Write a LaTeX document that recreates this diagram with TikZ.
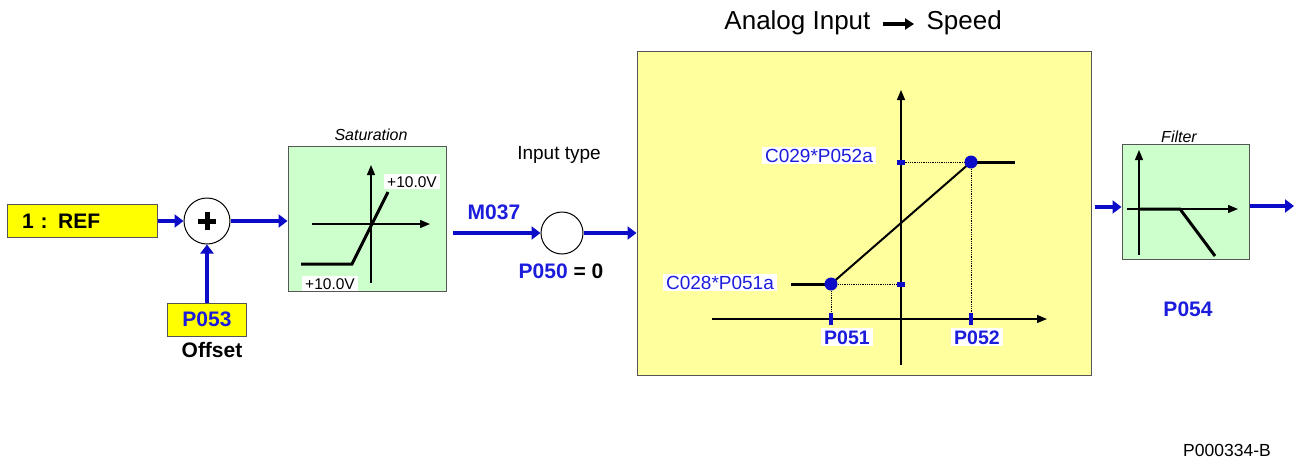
\documentclass[tikz,border=0pt]{standalone}
\usepackage{fontspec}
\setmainfont{Liberation Sans}
\usetikzlibrary{arrows.meta}
\definecolor{sigblue}{RGB}{12,12,200}
\definecolor{txtblue}{RGB}{28,28,220}
\definecolor{refyellow}{RGB}{255,255,0}
\definecolor{paleyellow}{RGB}{255,255,158}
\definecolor{palegreen}{RGB}{204,255,204}
\definecolor{edgegray}{RGB}{85,85,85}
\begin{document}
\begin{tikzpicture}[x=1pt,y=-1pt,
  sig/.style={draw=sigblue, line width=4.5pt, -{Triangle[length=9pt,width=13pt]}},
  ax/.style={line width=1.3pt, -{Triangle[length=10pt,width=8pt]}},
  curvethick/.style={line width=3pt},
  curvethin/.style={line width=2pt},
  refbox/.style={draw=edgegray, fill=refyellow, line width=1pt, inner sep=0pt},
  greenbox/.style={draw=edgegray, fill=palegreen, line width=1pt, inner sep=0pt},
  ybox/.style={draw=edgegray, fill=paleyellow, line width=1pt, inner sep=0pt},
  bigb/.style={font=\fontsize{21}{25}\selectfont\bfseries},
  midb/.style={font=\fontsize{19.5}{23}\selectfont\bfseries},
  regl/.style={font=\fontsize{19}{23}\selectfont},
  small/.style={font=\fontsize{15.5}{18}\selectfont},
  smallit/.style={font=\fontsize{16}{19}\selectfont\itshape},
  wbg/.style={fill=white, inner xsep=3pt, inner ysep=2pt},
  blk/.style={circle, draw=black, fill=white, line width=1pt, inner sep=0pt},
  tick/.style={fill=sigblue}
]
\useasboundingbox[fill=white] (0,0) rectangle (1298,464);

% title
\node[font=\fontsize{26}{30}\selectfont, anchor=base east] (tA) at (874,29) {Analog Input};
\node[font=\fontsize{26}{30}\selectfont, anchor=base west] (tB) at (923,29) {Speed};
\coordinate (ta) at (883,24);
\coordinate (tb) at (914,24);
\draw[line width=3.5pt, -{Triangle[length=9pt,width=11pt]}] (ta) -- (tb);

% REF box and summation
\node[refbox, minimum width=150pt, minimum height=33pt, text width=120pt, align=left, bigb] (ref) at (82,221) {1 : REF};
\node[blk, minimum size=46pt] (sum) at (207,221) {};
\draw[line width=5pt] ([xshift=-9pt]sum.center) -- ([xshift=9pt]sum.center);
\draw[line width=5pt] ([yshift=-9pt]sum.center) -- ([yshift=9pt]sum.center);
\node[refbox, minimum width=79pt, minimum height=33pt, bigb, text=txtblue] (p053) at (207,319.5) {P053};
\node[bigb, anchor=base] (offs) at (212,357) {Offset};

% Saturation block
\node[greenbox, minimum width=158pt, minimum height=145pt] (sat) at (367,218.5) {};
\node[smallit, anchor=base] (satl) at (371,140) {Saturation};
\draw[ax] (371,283) -- (371,165);
\draw[ax] (312,224) -- (430,224);
\draw[curvethick] (301,264) -- (352,264) -- (388,192);
\node[small, wbg, anchor=base] (vhi) at (412,187) {+10.0V};
\node[small, wbg, anchor=base] (vlo) at (330,289) {+10.0V};

% arrows
\draw[sig] (ref.east) -- (sum.west);
\draw[sig] (sum.east) -- (sum.east -| sat.west);
\draw[sig] (p053.north) -- (sum.south);

% input type
\node[blk, minimum size=42pt] (inp) at (562,233) {};
\node[regl, anchor=base] (intype) at (559,159) {Input type};
\node[bigb, text=txtblue, anchor=base] (m037) at (494,219) {M037};
\node[bigb, anchor=base] (p050) at (561,278) {\textcolor{txtblue}{P050} = 0};
\coordinate (mstart) at (453,233);
\draw[sig] (mstart) -- (inp.west);

% big conversion box
\node[ybox, minimum width=454pt, minimum height=324pt] (big) at (864,213) {};
\draw[sig] (inp.east) -- (inp.east -| big.west);

\draw[ax] (901,365) -- (901,90);
\draw[ax] (712,319) -- (1047,319);
\draw[densely dotted, line width=0.8pt] (831,284) -- (901,284);
\draw[densely dotted, line width=0.8pt] (901,162) -- (971,162);
\draw[densely dotted, line width=0.8pt] (831,284) -- (831,319);
\draw[densely dotted, line width=0.8pt] (971,162) -- (971,319);
\fill[tick] (897,281.5) rectangle (905,286.5);
\fill[tick] (897,159.5) rectangle (905,164.5);
\fill[tick] (829,313) rectangle (833,325);
\fill[tick] (969,313) rectangle (973,325);
\draw[curvethick] (791,284) -- (831,284);
\draw[curvethin] (831,284) -- (971,162);
\draw[curvethick] (971,162) -- (1015,162);
\fill[sigblue] (831,284) circle (6.5pt);
\fill[sigblue] (971,162) circle (6.5pt);
\node[regl, wbg, text=txtblue, anchor=base] (c029) at (819,162) {C029*P052a};
\node[regl, wbg, text=txtblue, anchor=base] (c028) at (720,289) {C028*P051a};
\node[midb, wbg, text=txtblue, anchor=base] (p051) at (847,344) {P051};
\node[midb, wbg, text=txtblue, anchor=base] (p052) at (977,344) {P052};

% filter block
\node[greenbox, minimum width=127pt, minimum height=115pt] (filt) at (1185.5,201.5) {};
\node[smallit, anchor=base] (filtl) at (1179,142) {Filter};
\draw[ax] (1139,255) -- (1139,150);
\draw[ax] (1127,209) -- (1238,209);
\draw[curvethick] (1139,209) -- (1180,209) -- (1215,256);
\coordinate (fin) at (1095,207);
\draw[sig] (fin) -- (fin -| filt.west);
\coordinate (fout) at (1294,206);
\draw[sig] (filt.east |- fout) -- (fout);
\node[bigb, text=txtblue, anchor=base] (p054) at (1188,316) {P054};

\node[font=\fontsize{17.5}{20}\selectfont, anchor=base] (code) at (1227,456) {P000334-B};
\end{tikzpicture}
\end{document}
